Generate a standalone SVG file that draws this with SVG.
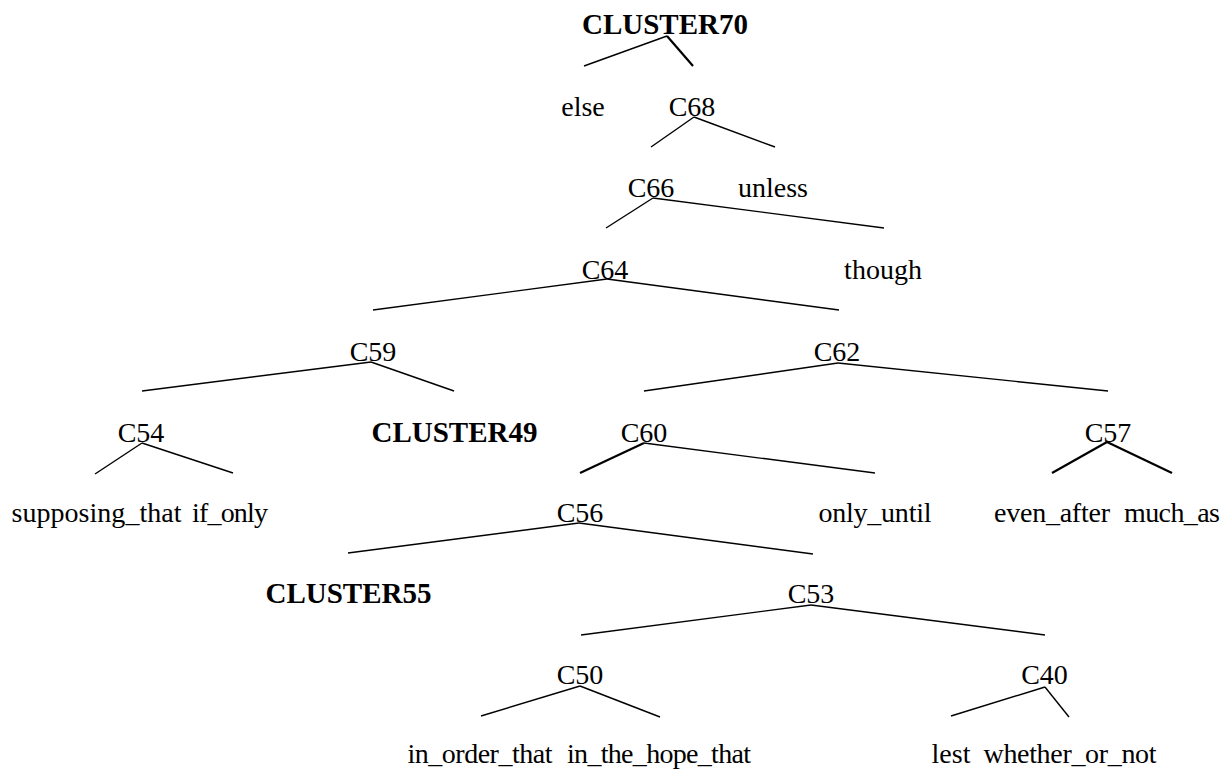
<svg xmlns="http://www.w3.org/2000/svg" width="1223" height="771" viewBox="0 0 1223 771">
  <style>
    text { font-family: "Liberation Serif", "Times New Roman", serif; font-size: 28px; fill: #000; text-anchor: middle; }
    text.cl { font-weight: bold; font-size: 29px; }
    line { stroke: #000; stroke-width: 1.4; stroke-linecap: butt; fill: none; }
    line.heavy { stroke-width: 2.2; }
  </style>
  <rect width="1223" height="771" fill="#fff"/>

  <!-- tree branches -->
  <g id="connectors">
    <line x1="667" y1="36" x2="584" y2="66"/>
    <line class="heavy" x1="667" y1="36" x2="693" y2="66"/>
    <line x1="694" y1="117" x2="651" y2="147"/>
    <line x1="694" y1="117" x2="775" y2="147"/>
    <line x1="653" y1="198" x2="606" y2="228"/>
    <line x1="653" y1="198" x2="884" y2="228"/>
    <line x1="607" y1="279" x2="373" y2="310"/>
    <line x1="607" y1="279" x2="839" y2="310"/>
    <line x1="371" y1="362" x2="142" y2="391"/>
    <line x1="371" y1="362" x2="454" y2="391"/>
    <line x1="838" y1="363" x2="644" y2="391"/>
    <line x1="838" y1="363" x2="1108" y2="391"/>
    <line x1="142" y1="443" x2="95" y2="474"/>
    <line x1="142" y1="443" x2="233" y2="473"/>
    <line class="heavy" x1="644" y1="443" x2="580" y2="473"/>
    <line x1="644" y1="443" x2="875" y2="473"/>
    <line class="heavy" x1="1107" y1="442" x2="1052" y2="473"/>
    <line class="heavy" x1="1107" y1="442" x2="1172" y2="473"/>
    <line x1="579" y1="523" x2="348" y2="553"/>
    <line x1="579" y1="523" x2="813" y2="554"/>
    <line x1="811" y1="605" x2="581" y2="635"/>
    <line x1="811" y1="605" x2="1045" y2="635"/>
    <line x1="580" y1="686" x2="481" y2="716"/>
    <line x1="580" y1="686" x2="660" y2="717"/>
    <line x1="1045" y1="687" x2="951" y2="716"/>
    <line x1="1045" y1="687" x2="1069" y2="717"/>
  </g>

  <!-- internal nodes -->
  <g id="CLUSTER70"><text class="cl" x="665" y="34">CLUSTER70</text></g>
  <g id="C68"><text x="692" y="116">C68</text></g>
  <g id="C66"><text x="651" y="197">C66</text></g>
  <g id="C64"><text x="605" y="279">C64</text></g>
  <g id="C59"><text x="373" y="361">C59</text></g>
  <g id="C62"><text x="837" y="361">C62</text></g>
  <g id="C54"><text x="141" y="442">C54</text></g>
  <g id="CLUSTER49"><text class="cl" x="454.5" y="442">CLUSTER49</text></g>
  <g id="C60"><text x="644" y="442">C60</text></g>
  <g id="C57"><text x="1108" y="442">C57</text></g>
  <g id="C56"><text x="580" y="522">C56</text></g>
  <g id="CLUSTER55"><text class="cl" x="348.5" y="603">CLUSTER55</text></g>
  <g id="C53"><text x="811" y="603">C53</text></g>
  <g id="C50"><text x="580" y="684">C50</text></g>
  <g id="C40"><text x="1044.5" y="684">C40</text></g>

  <!-- leaves -->
  <g id="else"><text x="583" y="116">else</text></g>
  <g id="unless"><text x="773" y="197">unless</text></g>
  <g id="though"><text x="883" y="279">though</text></g>
  <g id="supposing_that"><text x="96.5" y="522" textLength="170" lengthAdjust="spacing">supposing_that</text></g>
  <g id="if_only"><text x="230" y="522" textLength="76" lengthAdjust="spacing">if_only</text></g>
  <g id="only_until"><text x="875" y="522" textLength="113" lengthAdjust="spacing">only_until</text></g>
  <g id="even_after"><text x="1052" y="522" textLength="116" lengthAdjust="spacing">even_after</text></g>
  <g id="much_as"><text x="1172" y="522" textLength="96" lengthAdjust="spacing">much_as</text></g>
  <g id="in_order_that"><text x="480" y="763" textLength="145" lengthAdjust="spacing">in_order_that</text></g>
  <g id="in_the_hope_that"><text x="659" y="763" textLength="184" lengthAdjust="spacing">in_the_hope_that</text></g>
  <g id="lest"><text x="951" y="763">lest</text></g>
  <g id="whether_or_not"><text x="1070" y="763" textLength="173" lengthAdjust="spacing">whether_or_not</text></g>
</svg>
